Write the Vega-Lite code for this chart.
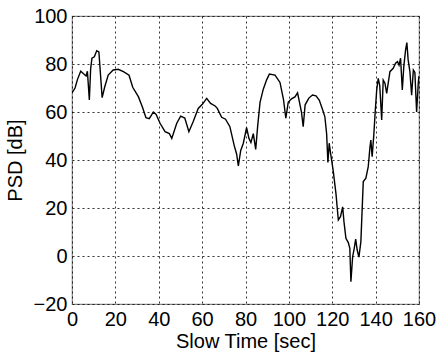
{
  "$schema": "https://vega.github.io/schema/vega-lite/v6.json",
  "autosize": "none",
  "width": 347,
  "height": 288,
  "padding": {"left": 72, "top": 16, "right": 19, "bottom": 50},
  "background": "white",
  "config": {
    "view": {"stroke": "#888", "strokeWidth": 1.2},
    "font": "Liberation Sans",
    "axis": {
      "labelFont": "Liberation Sans",
      "titleFont": "Liberation Sans",
      "labelFontSize": 20,
      "titleFontSize": 20,
      "labelColor": "black",
      "titleColor": "black",
      "titleFontWeight": "normal",
      "domain": false,
      "ticks": false,
      "grid": true,
      "gridColor": "#000",
      "gridOpacity": 0.8,
      "gridDash": [2, 3],
      "gridWidth": 1
    }
  },
  "data": {
    "values": [
      {"t": 0, "v": 68}, {"t": 1.4, "v": 70}, {"t": 2.5, "v": 73.5}, {"t": 4, "v": 77},
      {"t": 5.2, "v": 76}, {"t": 6.5, "v": 75}, {"t": 7.1, "v": 77}, {"t": 8, "v": 65},
      {"t": 8.6, "v": 78}, {"t": 9.2, "v": 82.4}, {"t": 10.3, "v": 83}, {"t": 11.4, "v": 85.5},
      {"t": 12.4, "v": 85}, {"t": 13.9, "v": 66}, {"t": 15.1, "v": 70.5}, {"t": 16.7, "v": 75.4},
      {"t": 19, "v": 77.5}, {"t": 21.3, "v": 77.8}, {"t": 23.7, "v": 76.8}, {"t": 26.3, "v": 75.3},
      {"t": 28, "v": 70.3}, {"t": 30.6, "v": 66.4}, {"t": 32.5, "v": 62}, {"t": 34.1, "v": 57.6},
      {"t": 35.6, "v": 57.2}, {"t": 36.5, "v": 58.5}, {"t": 37.5, "v": 60}, {"t": 38.8, "v": 59},
      {"t": 40.6, "v": 55.3}, {"t": 42.9, "v": 51.8}, {"t": 44.9, "v": 51}, {"t": 46, "v": 49},
      {"t": 48.3, "v": 55.3}, {"t": 50.1, "v": 58.3}, {"t": 52, "v": 57.5}, {"t": 53.9, "v": 51.8},
      {"t": 55.9, "v": 56}, {"t": 58.2, "v": 61.5}, {"t": 60.2, "v": 63.3}, {"t": 62.1, "v": 65.7},
      {"t": 63.9, "v": 63.6}, {"t": 66, "v": 62.5}, {"t": 67, "v": 61.5}, {"t": 69, "v": 57.8},
      {"t": 70.8, "v": 57}, {"t": 72.8, "v": 53.9}, {"t": 74.8, "v": 46}, {"t": 75.9, "v": 42.5},
      {"t": 76.7, "v": 37.5}, {"t": 77.8, "v": 44}, {"t": 79, "v": 47}, {"t": 80.5, "v": 53.5},
      {"t": 81.6, "v": 49}, {"t": 82.5, "v": 47.3}, {"t": 83.6, "v": 51}, {"t": 84.7, "v": 44.4},
      {"t": 85.6, "v": 54}, {"t": 86.7, "v": 64}, {"t": 88.2, "v": 69.5}, {"t": 89.7, "v": 73.3},
      {"t": 91, "v": 75.8}, {"t": 93.6, "v": 75.4}, {"t": 95.9, "v": 72.3}, {"t": 97.5, "v": 65.3},
      {"t": 98.6, "v": 57.4}, {"t": 99.7, "v": 64}, {"t": 101.2, "v": 65.5}, {"t": 102.8, "v": 66.3},
      {"t": 104, "v": 68}, {"t": 104.9, "v": 64}, {"t": 105.8, "v": 60}, {"t": 106.6, "v": 53.9},
      {"t": 107.5, "v": 63}, {"t": 109.2, "v": 65.8}, {"t": 110.9, "v": 67.1}, {"t": 112.5, "v": 66.7},
      {"t": 114, "v": 65}, {"t": 115.6, "v": 60.8}, {"t": 116.6, "v": 58}, {"t": 117.4, "v": 51},
      {"t": 118, "v": 39}, {"t": 118.6, "v": 47}, {"t": 119.2, "v": 43}, {"t": 120.4, "v": 35.8},
      {"t": 121.7, "v": 26.1}, {"t": 122.8, "v": 15}, {"t": 123.8, "v": 16.4}, {"t": 124.8, "v": 20.5},
      {"t": 125.4, "v": 14.3}, {"t": 126.3, "v": 7.4}, {"t": 127.4, "v": 5.6}, {"t": 128.1, "v": 3.2},
      {"t": 128.6, "v": -10.7}, {"t": 129.4, "v": -0.3}, {"t": 130.1, "v": 3}, {"t": 130.8, "v": 7},
      {"t": 131.5, "v": 2.5}, {"t": 132.3, "v": -0.5}, {"t": 133.2, "v": 6}, {"t": 134.3, "v": 31},
      {"t": 135.5, "v": 32.4}, {"t": 136.6, "v": 37.2}, {"t": 137.4, "v": 45.5}, {"t": 137.8, "v": 48.3},
      {"t": 138.4, "v": 41.4}, {"t": 139.2, "v": 51}, {"t": 139.8, "v": 60}, {"t": 140.5, "v": 69.2},
      {"t": 141.2, "v": 74}, {"t": 141.9, "v": 71}, {"t": 142.8, "v": 56.7}, {"t": 143.5, "v": 73.3},
      {"t": 144.3, "v": 72}, {"t": 145.1, "v": 67.8}, {"t": 145.8, "v": 72}, {"t": 146.6, "v": 76.8},
      {"t": 148.1, "v": 78.2}, {"t": 149.2, "v": 80.3}, {"t": 150.1, "v": 81}, {"t": 150.8, "v": 79.5},
      {"t": 151.5, "v": 82.4}, {"t": 152.3, "v": 69.2}, {"t": 153, "v": 79}, {"t": 153.8, "v": 85.8},
      {"t": 154.4, "v": 88.9}, {"t": 155, "v": 81.7}, {"t": 155.8, "v": 76.8}, {"t": 156.6, "v": 67},
      {"t": 157.4, "v": 77.5}, {"t": 158.1, "v": 76.5}, {"t": 158.9, "v": 60}, {"t": 159.7, "v": 72.6},
      {"t": 160, "v": 75}
    ]
  },
  "mark": {"type": "line", "color": "black", "strokeWidth": 1.4, "clip": true},
  "encoding": {
    "x": {
      "field": "t", "type": "quantitative",
      "scale": {"domain": [0, 160], "nice": false, "zero": false},
      "axis": {"values": [0, 20, 40, 60, 80, 100, 120, 140, 160], "title": "Slow Time [sec]", "labelPadding": 5, "titlePadding": 2, "labelFlush": false}
    },
    "y": {
      "field": "v", "type": "quantitative",
      "scale": {"domain": [-20, 100], "nice": false, "zero": false},
      "axis": {"values": [-20, 0, 20, 40, 60, 80, 100], "title": "PSD [dB]", "labelPadding": 5, "titlePadding": 8, "labelFlush": false}
    }
  }
}
